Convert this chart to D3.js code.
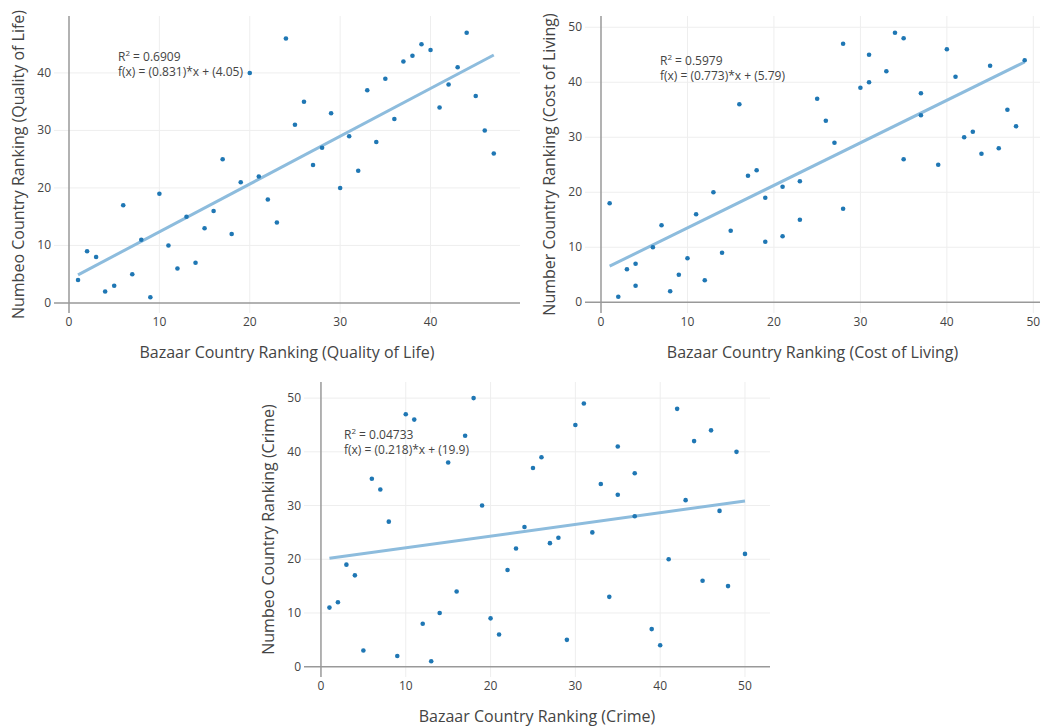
<html>
<head>
  <meta charset="utf-8">
  <title>Bazaar vs Numbeo rankings</title>
  <script src="https://d3js.org/d3.v7.min.js"></script>
  <style>
    body { margin: 0; background: #fff; font-family: "Open Sans", sans-serif; }
    svg { display: block; }
    .grid line { stroke: #eee; stroke-width: 1; }
    .zero { stroke: #999; stroke-width: 1.5; }
    .tick-label { fill: #444; font-size: 12px; }
    .axis-title { fill: #444; font-size: 16px; }
    .note { fill: #444; font-size: 12px; }
    .fit { stroke: #8dbcdd; stroke-width: 3; fill: none; }
    .dot { fill: #1f77b4; }
  </style>
</head>
<body>
<script>
// quality of life: bazaar rank 1..47 vs numbeo rank
var qolX = d3.range(1, 48);
var qolY = [4, 9, 8, 2, 3, 17, 5, 11, 1, 19, 10, 6, 15, 7, 13, 16, 25, 12, 21, 40,
            22, 18, 14, 46, 31, 35, 24, 27, 33, 20, 29, 23, 37, 28, 39, 32, 42, 43,
            45, 44, 34, 38, 41, 47, 36, 30, 26];

// cost of living
var colX = [1, 2, 3, 4, 4, 6, 7, 8, 9, 10, 11, 12, 13, 14, 15, 16, 17, 18, 19, 19,
            21, 21, 23, 23, 25, 26, 27, 28, 28, 30, 31, 31, 33, 34, 35, 35, 37, 37,
            39, 40, 41, 42, 43, 44, 45, 46, 47, 48, 49];
var colY = [18, 1, 6, 7, 3, 10, 14, 2, 5, 8, 16, 4, 20, 9, 13, 36, 23, 24, 19, 11,
            21, 12, 22, 15, 37, 33, 29, 47, 17, 39, 45, 40, 42, 49, 48, 26, 38, 34,
            25, 46, 41, 30, 31, 27, 43, 28, 35, 32, 44];

// crime
var crimeX = [1, 2, 3, 4, 5, 6, 7, 8, 9, 10, 11, 12, 13, 14, 15, 16, 17, 18, 19, 20,
              21, 22, 23, 24, 25, 26, 27, 28, 29, 30, 31, 32, 33, 34, 35, 35, 37, 37,
              39, 40, 41, 42, 43, 44, 45, 46, 47, 48, 49, 50];
var crimeY = [11, 12, 19, 17, 3, 35, 33, 27, 2, 47, 46, 8, 1, 10, 38, 14, 43, 50, 30, 9,
              6, 18, 22, 26, 37, 39, 23, 24, 5, 45, 49, 25, 34, 13, 41, 32, 36, 28,
              7, 4, 20, 48, 31, 42, 16, 44, 29, 15, 40, 21];

var ticks = [0, 10, 20, 30, 40, 50];

var panels = [
  { xs: qolX, ys: qolY,
    xTitle: 'Bazaar Country Ranking (Quality of Life)',
    yTitle: 'Numbeo Country Ranking (Quality of Life)',
    notes: ['R2 = 0.6909', 'f(x) = (0.831)*x + (4.05)'],
    box: [54, 520, 16, 313], xDom: [-1.66, 49.9], yDom: [-1.75, 49.9], note: [118, 61] },
  { xs: colX, ys: colY,
    xTitle: 'Bazaar Country Ranking (Cost of Living)',
    yTitle: 'Number Country Ranking (Cost of Living)',
    notes: ['R2 = 0.5979', 'f(x) = (0.773)*x + (5.79)'],
    box: [585, 1040, 16, 313], xDom: [-1.85, 50.77], yDom: [-1.95, 52.05], note: [660, 65] },
  { xs: crimeX, ys: crimeY,
    xTitle: 'Bazaar Country Ranking (Crime)',
    yTitle: 'Numbeo Country Ranking (Crime)',
    notes: ['R2 = 0.04733', 'f(x) = (0.218)*x + (19.9)'],
    box: [304, 770, 382, 677], xDom: [-2, 52.95], yDom: [-1.92, 53], note: [344, 439] }
];

var svg = d3.select('body').append('svg')
  .attr('width', 1042)
  .attr('height', 728);

function fitLine(xs, ys) {
  var mx = d3.mean(xs), my = d3.mean(ys);
  var sxy = d3.sum(xs, function(x, i) { return (x - mx) * (ys[i] - my); });
  var sxx = d3.sum(xs, function(x) { return (x - mx) * (x - mx); });
  var b = sxy / sxx;
  return { slope: b, icpt: my - b * mx };
}

panels.forEach(function(p) {
  var x = d3.scaleLinear().domain(p.xDom).range([p.box[0], p.box[1]]);
  var y = d3.scaleLinear().domain(p.yDom).range([p.box[3], p.box[2]]);
  var g = svg.append('g');

  var xt = ticks.filter(function(t) { return t <= p.xDom[1]; });
  var yt = ticks.filter(function(t) { return t <= p.yDom[1]; });

  var grid = g.append('g').attr('class', 'grid');
  grid.selectAll('.gx').data(xt.filter(function(t) { return t > 0; })).enter().append('line')
    .attr('x1', function(d) { return x(d); }).attr('x2', function(d) { return x(d); })
    .attr('y1', p.box[2]).attr('y2', p.box[3]);
  grid.selectAll('.gy').data(yt.filter(function(t) { return t > 0; })).enter().append('line')
    .attr('y1', function(d) { return y(d); }).attr('y2', function(d) { return y(d); })
    .attr('x1', p.box[0]).attr('x2', p.box[1]);

  // zero lines
  g.append('line').attr('class', 'zero')
    .attr('x1', p.box[0]).attr('x2', p.box[1]).attr('y1', y(0)).attr('y2', y(0));
  g.append('line').attr('class', 'zero')
    .attr('x1', x(0)).attr('x2', x(0)).attr('y1', p.box[2]).attr('y2', p.box[3]);

  // tick labels
  g.selectAll('.xl').data(xt).enter().append('text')
    .attr('class', 'tick-label')
    .attr('x', function(d) { return x(d); })
    .attr('y', p.box[3] + 13)
    .attr('text-anchor', 'middle')
    .text(function(d) { return d; });
  g.selectAll('.yl').data(yt).enter().append('text')
    .attr('class', 'tick-label')
    .attr('x', p.box[0] - 3)
    .attr('y', function(d) { return y(d) + 4; })
    .attr('text-anchor', 'end')
    .text(function(d) { return d; });

  // titles
  g.append('text').attr('class', 'axis-title')
    .attr('x', (p.box[0] + p.box[1]) / 2)
    .attr('y', p.box[3] + 45)
    .attr('text-anchor', 'middle')
    .text(p.xTitle);
  g.append('text').attr('class', 'axis-title')
    .attr('transform', 'translate(' + (p.box[0] - 30) + ',' + ((p.box[2] + p.box[3]) / 2) + ') rotate(-90)')
    .attr('text-anchor', 'middle')
    .text(p.yTitle);

  // regression line
  var f = fitLine(p.xs, p.ys);
  var x0 = d3.min(p.xs), x1 = d3.max(p.xs);
  g.append('line').attr('class', 'fit')
    .attr('x1', x(x0)).attr('y1', y(f.slope * x0 + f.icpt))
    .attr('x2', x(x1)).attr('y2', y(f.slope * x1 + f.icpt));

  // points
  g.selectAll('circle').data(p.xs).enter().append('circle')
    .attr('class', 'dot')
    .attr('r', 2.3)
    .attr('cx', function(d) { return x(d); })
    .attr('cy', function(d, i) { return y(p.ys[i]); });

  // annotation
  var r2 = g.append('text').attr('class', 'note').attr('x', p.note[0]).attr('y', p.note[1]);
  r2.append('tspan').text('R');
  r2.append('tspan').attr('dy', -5).attr('font-size', '8px').text('2');
  r2.append('tspan').attr('dy', 5).text(p.notes[0].slice(2));
  g.append('text').attr('class', 'note')
    .attr('x', p.note[0]).attr('y', p.note[1] + 15)
    .text(p.notes[1]);
});
</script>
</body>
</html>
